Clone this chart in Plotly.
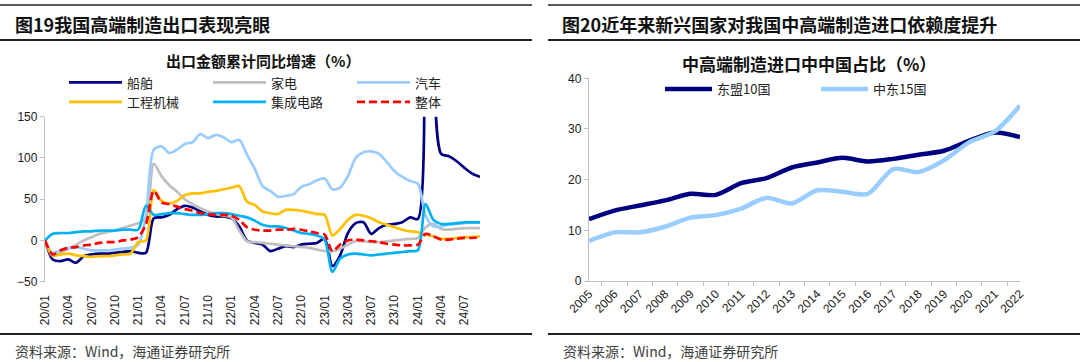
import plotly.graph_objects as go

# ---------------- data ----------------
months = [f"{y:02d}/{m:02d}" for y in range(20, 25) for m in range(1, 13)][:57]  # 20/01 .. 24/09
tick_months = months[0:55:3]  # 20/01 ... 24/07

ship = [0, -23, -25, -23, -27, -19, -17, -16, -16, -15, -14, -13, -15, -15, 27, 28, 31, 38, 42, 40,
        35, 31, 29, 29, 27, 17, 0, -3, -5, -13, -10, -7, -8, -5, -4, -3, 2, -31, -18, 9,
        21, 22, 8, 15, 19, 20, 22, 28, 26, 320, 210, 105, 102, 96, 88, 81, 77]
appliance = [0, -19, -15, -10, -5, 0, 4, 8, 10, 12, 15, 18, 21, 28, 93, 78, 67, 59, 50, 44,
             39, 35, 32, 30, 28, 12, -1, -2, -3, -4, -5, -6, -7, -8, -9, -11, -13, -13, -10, -5,
             -1, -1, -2, -2, -1, 0, 1, 2, 3, 16, 20, 14, 13, 14, 15, 15, 15]
auto = [0, -15, -12, -9, -8, -10, -12, -12, -12, -11, -10, -9, -5, 30, 110, 114, 106, 110, 117, 119,
        129, 124, 128, 125, 119, 122, 104, 87, 66, 60, 53, 54, 56, 65, 68, 73, 75, 62, 64, 78,
        100, 107, 108, 105, 95, 84, 77, 72, 69, 30, 17, 17, 19, 20, 21, 22, 22]
machinery = [0, -18, -17, -16, -18, -19, -20, -19, -19, -18, -17, -16, -2, 0, 61, 48, 45, 48, 55, 57,
             57, 59, 60, 62, 64, 66, 47, 43, 35, 33, 32, 37, 37, 36, 34, 32, 31, 6, 14, 25,
             31, 30, 27, 22, 19, 16, 13, 11, 10, 7, 5, 2, 2, 3, 4, 4, 5]
ic = [0, 8, 9, 9, 10, 11, 11, 12, 12, 12, 13, 13, 13, 42, 31, 32, 33, 33, 32, 31,
      31, 32, 33, 33, 32, 30, 28, 24, 19, 17, 17, 15, 12, 9, 8, 6, 1, -38, -22, -17,
      -16, -17, -18, -17, -16, -15, -14, -13, -12, 44, 25, 20, 20, 21, 22, 22, 22]
total = [0, -17, -12, -9, -8, -6, -5, -3, -2, -2, 0, 1, 4, 20, 60, 46, 44, 41, 38, 36,
         33, 32, 31, 31, 30, 25, 16, 13, 12, 12, 13, 13, 14, 13, 11, 9, 7, -13, -5, 0,
         1, 0, -1, -2, -4, -5, -6, -6, -5, 8, 5, 1, 1, 2, 3, 3, 4]

years = [str(y) for y in range(2005, 2023)]
asean = [12.2, 13.9, 14.9, 15.9, 17.2, 17.0, 19.3, 20.3, 22.4, 23.4, 24.3, 23.6, 24.1, 24.9, 25.7, 27.7, 29.3, 28.4]
mideast = [7.9, 9.6, 9.6, 10.7, 12.5, 13.0, 14.3, 16.4, 15.3, 17.9, 17.6, 17.2, 22.1, 21.5, 23.8, 27.4, 29.5, 34.6]

# ---------------- helpers ----------------
W, H = 1080, 362
def px(x):
    return x / W
def py(y):
    return 1 - y / H

CJK = "Noto Sans CJK SC"
NUM = "Liberation Sans, Arial"
GRID = "#BFBFBF"

fig = go.Figure()

left_series = [
    ("船舶", ship, "#000080", "solid", "legend"),
    ("家电", appliance, "#BFBFBF", "solid", "legend"),
    ("汽车", auto, "#99CCFF", "solid", "legend"),
    ("工程机械", machinery, "#FFC000", "solid", "legend3"),
    ("集成电路", ic, "#00B0F0", "solid", "legend3"),
    ("整体", total, "#FF0000", "8px,4px", "legend3"),
]
for name, vals, col, dash, lg in left_series:
    fig.add_trace(go.Scatter(
        x=months, y=vals, name=name, mode="lines",
        line=dict(color=col, width=2.7, dash=dash, shape="spline", smoothing=0.8),
        xaxis="x", yaxis="y", legend=lg, hoverinfo="skip"))

fig.add_trace(go.Scatter(x=years, y=asean, name="东盟10国", mode="lines",
                         line=dict(color="#000080", width=4.5, shape="spline", smoothing=0.8),
                         xaxis="x2", yaxis="y2", legend="legend2"))
fig.add_trace(go.Scatter(x=years, y=mideast, name="中东15国", mode="lines",
                         line=dict(color="#99CCFF", width=4.5, shape="spline", smoothing=0.8),
                         xaxis="x2", yaxis="y2", legend="legend2"))

# ---------------- axes ----------------
ydom_l = [py(281.7), py(116.7)]
zero_pos = ydom_l[0] + (0 - (-50)) / 200 * (ydom_l[1] - ydom_l[0])
xdom_l = [px(45), px(480)]
xr_l = [0, 56]

legend_font = dict(family=CJK, size=13, color="#222222")
leg_common = dict(orientation="h", xanchor="left", yanchor="middle", bgcolor="rgba(0,0,0,0)",
                  font=legend_font, entrywidthmode="pixels", borderwidth=0,
                  itemclick=False, itemdoubleclick=False)

fig.update_layout(
    width=W, height=H, autosize=False,
    margin=dict(l=0, r=0, t=0, b=0, pad=0, autoexpand=False),
    paper_bgcolor="white", plot_bgcolor="white",
    font=dict(family=NUM, size=12, color="#1a1a1a"),
    xaxis=dict(domain=xdom_l, anchor="y", type="category", range=xr_l,
               tickmode="array", tickvals=tick_months, tickangle=-90,
               ticks="", showline=False, showgrid=False, zeroline=False,
               tickfont=dict(family=NUM, size=12, color="#1a1a1a"), ticklabelstandoff=10),
    xaxis3=dict(overlaying="x", anchor="free", position=zero_pos, type="linear", range=xr_l,
                tickmode="array", tickvals=list(range(0, 56, 3)), ticks="outside", ticklen=4,
                tickcolor=GRID, showticklabels=False, showline=True, linecolor=GRID,
                linewidth=1.3, showgrid=False, zeroline=False),
    yaxis=dict(domain=ydom_l, anchor="x", range=[-50, 150], tickmode="array",
               tickvals=[-50, 0, 50, 100, 150], showline=True, linecolor=GRID, linewidth=1.3,
               ticks="outside", ticklen=4, tickcolor=GRID, showgrid=False, zeroline=False,
               tickfont=dict(family=NUM, size=12, color="#1a1a1a")),
    xaxis2=dict(domain=[px(589), px(1020)], anchor="y2", type="category",
                tickson="boundaries", ticks="outside", ticklen=4, tickcolor=GRID,
                showline=True, linecolor=GRID, linewidth=1.3, showgrid=False, tickangle=-45,
                tickfont=dict(family=NUM, size=12, color="#1a1a1a")),
    yaxis2=dict(domain=[py(281), py(78.3)], anchor="x2", range=[0, 40], dtick=10,
                showline=True, linecolor=GRID, linewidth=1.3, ticks="outside", ticklen=4,
                tickcolor=GRID, showgrid=False, zeroline=False,
                tickfont=dict(family=NUM, size=12, color="#1a1a1a")),
    showlegend=True,
    legend=dict(x=px(64), y=py(82.5), entrywidth=76, itemwidth=53, **leg_common),
    legend3=dict(x=px(64), y=py(102), entrywidth=76, itemwidth=53, **leg_common),
    legend2=dict(x=px(660), y=py(89), entrywidth=94, itemwidth=47, **leg_common),
)

# ---------------- rules & text ----------------
shapes = []
for x0, x1 in [(0, 532), (548, 1080)]:
    shapes.append(dict(type="line", xref="paper", yref="paper", x0=px(x0), x1=px(x1),
                       y0=py(5), y1=py(5), line=dict(color="#222222", width=1.3)))
    shapes.append(dict(type="line", xref="paper", yref="paper", x0=px(x0), x1=px(x1),
                       y0=py(40), y1=py(40), line=dict(color="#222222", width=2)))
    shapes.append(dict(type="line", xref="paper", yref="paper", x0=px(x0), x1=px(x1),
                       y0=py(334), y1=py(334), line=dict(color="#222222", width=2)))
fig.update_layout(shapes=shapes)

ann = [
    dict(text="<b>图19我国高端制造出口表现亮眼</b>", x=px(13), y=py(24), xanchor="left",
         font=dict(family=CJK, size=18, color="#111111")),
    dict(text="<b>图20近年来新兴国家对我国中高端制造进口依赖度提升</b>", x=px(560), y=py(24),
         xanchor="left", font=dict(family=CJK, size=18, color="#111111")),
    dict(text="<b>出口金额累计同比增速（%）</b>", x=px(263), y=py(60), xanchor="center",
         font=dict(family=CJK, size=15, color="#111111")),
    dict(text="<b>中高端制造进口中中国占比（%）</b>", x=px(809), y=py(63), xanchor="center",
         font=dict(family=CJK, size=17, color="#111111")),
    dict(text="资料来源：Wind，海通证券研究所", x=px(13), y=py(351), xanchor="left",
         font=dict(family=CJK, size=14, color="#404040")),
    dict(text="资料来源：Wind，海通证券研究所", x=px(561), y=py(351), xanchor="left",
         font=dict(family=CJK, size=14, color="#404040")),
]
for a in ann:
    a.update(xref="paper", yref="paper", yanchor="middle", showarrow=False)
fig.update_layout(annotations=ann)

fig.write_html("out.html", config={"displayModeBar": False},
               post_script="document.body.style.margin='0';document.body.style.overflow='hidden';")
